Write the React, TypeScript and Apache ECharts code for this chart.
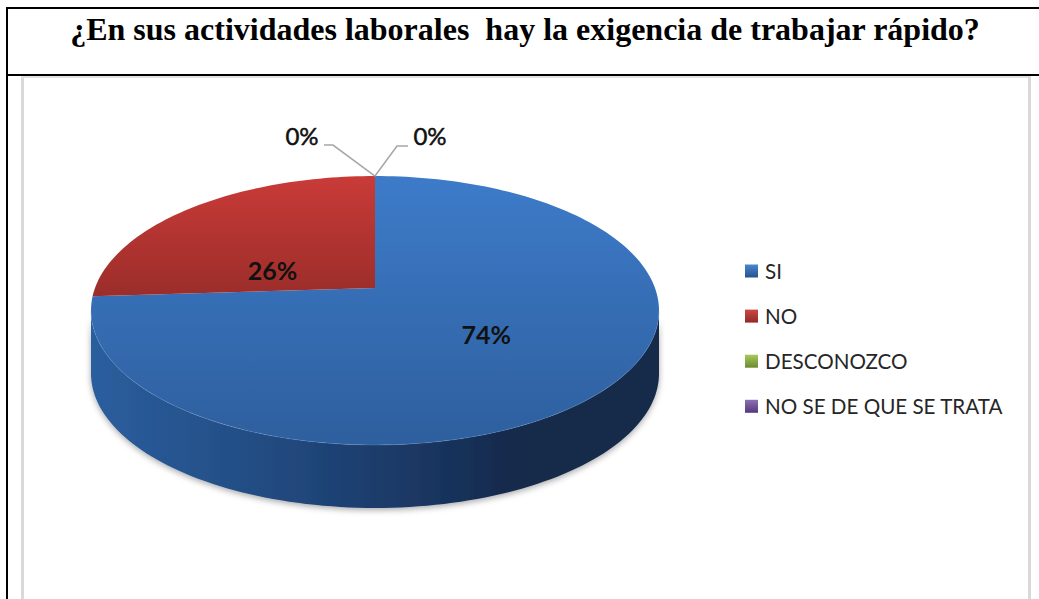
import React, { useEffect, useRef } from "react";
import * as echarts from "echarts";

const titleText = "¿En sus actividades laborales  hay la exigencia de trabajar rápido?";
const categories = ["SI", "NO", "DESCONOZCO", "NO SE DE QUE SE TRATA"];
const values = [74, 26, 0, 0];

const faceStops = [
  ["#3d7bc9", "#2e5f9e"],
  ["#c93b38", "#9b2d2a"],
  ["#9bbb59", "#76923c"],
  ["#8064a2", "#5f497a"],
];
const legendStops = [
  ["#4a86cf", "#235390"],
  ["#d04643", "#8f2a28"],
  ["#a9c860", "#6a8a2e"],
  ["#8d6fb4", "#54397c"],
];
const wallStops = [
  [[0, "#2b5e9e"], [0.3, "#224c82"], [0.55, "#1b3966"], [0.75, "#15294a"], [1, "#152a49"]],
  [[0, "#a02f2c"], [1, "#5a1a18"]],
  [[0, "#76923c"], [1, "#4f6228"]],
  [[0, "#5f497a"], [1, "#3f3151"]],
];

// Projected disc: the flat circle seen in perspective.
const APEX_X = 375;
const APEX_Y = 288;
const SCALE_X = 280;
const SCALE_Y = 130.7;
const PERSPECTIVE = -0.1673;
const DEPTH = 63;
const FRONT_FROM = 99.6;
const FRONT_TO = 260.4;

const project = (deg: number, r = 1): [number, number] => {
  const t = (deg * Math.PI) / 180;
  const u = Math.sin(t) * r;
  const v = -Math.cos(t) * r;
  const w = 1 + PERSPECTIVE * v;
  return [APEX_X + (SCALE_X * u) / w, APEX_Y + (SCALE_Y * v) / w];
};

const arc = (from: number, to: number): [number, number][] => {
  const n = Math.max(2, Math.ceil((to - from) / 1.5));
  const out: [number, number][] = [];
  for (let i = 0; i <= n; i++) out.push(project(from + ((to - from) * i) / n));
  return out;
};

const total = values.reduce((a, b) => a + b, 0);
const startAngle = (i: number) =>
  (values.slice(0, i).reduce((a, b) => a + b, 0) / total) * 360;

// Label placement relative to the slice's anchor point.
const labelPlacement = [
  { r: 0.5, dx: 3, dy: -1, size: 25, thick: 0 },
  { r: 0.5, dx: -6, dy: 24, size: 25, thick: 0 },
  { r: 1, dx: -73, dy: -41, size: 24, thick: 0.5, leader: [[-42, -31], [-51, -31]] },
  { r: 1, dx: 55, dy: -41, size: 24, thick: 0.5, leader: [[22, -30], [33, -30]] },
];

const fmt = (v: number) => `${Math.round((v / total) * 100)}%`;

const renderSlice = (index: number) => () => {
  const from = startAngle(index);
  const to = from + (values[index] / total) * 360;
  const children: any[] = [];
  const place = labelPlacement[index];

  const wallFrom = Math.max(from, FRONT_FROM);
  const wallTo = Math.min(to, FRONT_TO);
  if (wallTo > wallFrom) {
    const front = arc(wallFrom, wallTo);
    const lower = front.map(([x, y]) => [x, y + DEPTH]).reverse();
    children.push({
      type: "polygon",
      shape: { points: [...front, ...lower] },
      style: {
        fill: new echarts.graphic.LinearGradient(
          0, 0, 1, 0,
          [...wallStops[index]].map(([offset, color]) => ({ offset, color })) as any
        ),
        shadowBlur: 6,
        shadowColor: "rgba(0,0,0,0.35)",
        shadowOffsetY: 2,
      },
    });
  }

  if (to > from) {
    children.push({
      type: "polygon",
      shape: { points: [[APEX_X, APEX_Y], ...arc(from, to)] },
      style: {
        fill: new echarts.graphic.LinearGradient(0, 0, 0, 1, [
          { offset: 0, color: faceStops[index][0] },
          { offset: 1, color: faceStops[index][1] },
        ]),
      },
    });
  }
  if (wallTo > wallFrom) {
    children.push({
      type: "polyline",
      shape: { points: arc(wallFrom, wallTo) },
      style: { stroke: "rgba(110,155,215,0.3)", lineWidth: 1, fill: "none" },
    });
  }

  const mid = (from + to) / 2;
  const [ax, ay] = project(mid, place.r);
  if (place.leader) {
    children.push({
      type: "polyline",
      shape: {
        points: [[ax, ay], ...place.leader.map(([x, y]) => [ax + x, ay + y])],
      },
      style: { stroke: "#a6a6a6", lineWidth: 1.5, fill: "none" },
    });
  }
  children.push({
    type: "text",
    x: ax + place.dx,
    y: ay + place.dy,
    style: {
      text: fmt(values[index]),
      fill: "#111111",
      stroke: place.thick ? "#111111" : undefined,
      lineWidth: place.thick,
      fontFamily: "Lato",
      fontWeight: place.thick ? 400 : 700,
      fontSize: place.size,
      align: "center",
      verticalAlign: "middle",
    },
  });
  return { type: "group", children };
};

export default function App() {
  const ref = useRef<HTMLDivElement>(null);
  useEffect(() => {
    const chart = echarts.init(ref.current!, null, { renderer: "svg" });
    const grad = (i: number) =>
      new echarts.graphic.LinearGradient(0, 0, 0, 1, [
        { offset: 0, color: legendStops[i][0] },
        { offset: 1, color: legendStops[i][1] },
      ]);
    chart.setOption({
      animation: false,
      backgroundColor: "#ffffff",
      title: {
        text: titleText,
        left: 520,
        top: 8,
        textAlign: "center",
        textStyle: {
          fontFamily: "Liberation Serif",
          fontWeight: "bold",
          fontSize: 32,
          color: "#000000",
        },
      },
      legend: {
        orient: "vertical",
        left: 745,
        top: 260.5,
        padding: 0,
        itemWidth: 13,
        itemHeight: 13,
        itemGap: 24.1,
        icon: "rect",
        selectedMode: false,
        data: categories.map((name, i) => ({ name, itemStyle: { color: grad(i) } })),
        textStyle: {
          fontFamily: "Lato",
          fontSize: 20.6,
          color: "#262626",
          padding: [0, 0, 0, 2],
        },
      },
      graphic: [
        { type: "rect", shape: { x: 6, y: 7, width: 2, height: 592 }, style: { fill: "#000" } },
        { type: "rect", shape: { x: 6, y: 7, width: 1033, height: 2 }, style: { fill: "#000" } },
        { type: "rect", shape: { x: 6, y: 74, width: 1033, height: 2 }, style: { fill: "#000" } },
        { type: "rect", shape: { x: 21, y: 76, width: 3, height: 523 }, style: { fill: "#d9d9d9" } },
        { type: "rect", shape: { x: 21, y: 76, width: 1010, height: 2 }, style: { fill: "#e2e2e2" } },
        { type: "rect", shape: { x: 1028, y: 76, width: 3, height: 523 }, style: { fill: "#d9d9d9" } },
      ],
      series: categories.map((name, i) => ({
        type: "custom",
        name,
        coordinateSystem: "none",
        silent: true,
        itemStyle: { color: legendStops[i][0] },
        data: [values[i]],
        renderItem: renderSlice(i),
      })),
    });
    return () => chart.dispose();
  }, []);
  return (
    <div
      ref={ref}
      style={{ position: "fixed", left: 0, top: 0, width: 1039, height: 599 }}
    />
  );
}
